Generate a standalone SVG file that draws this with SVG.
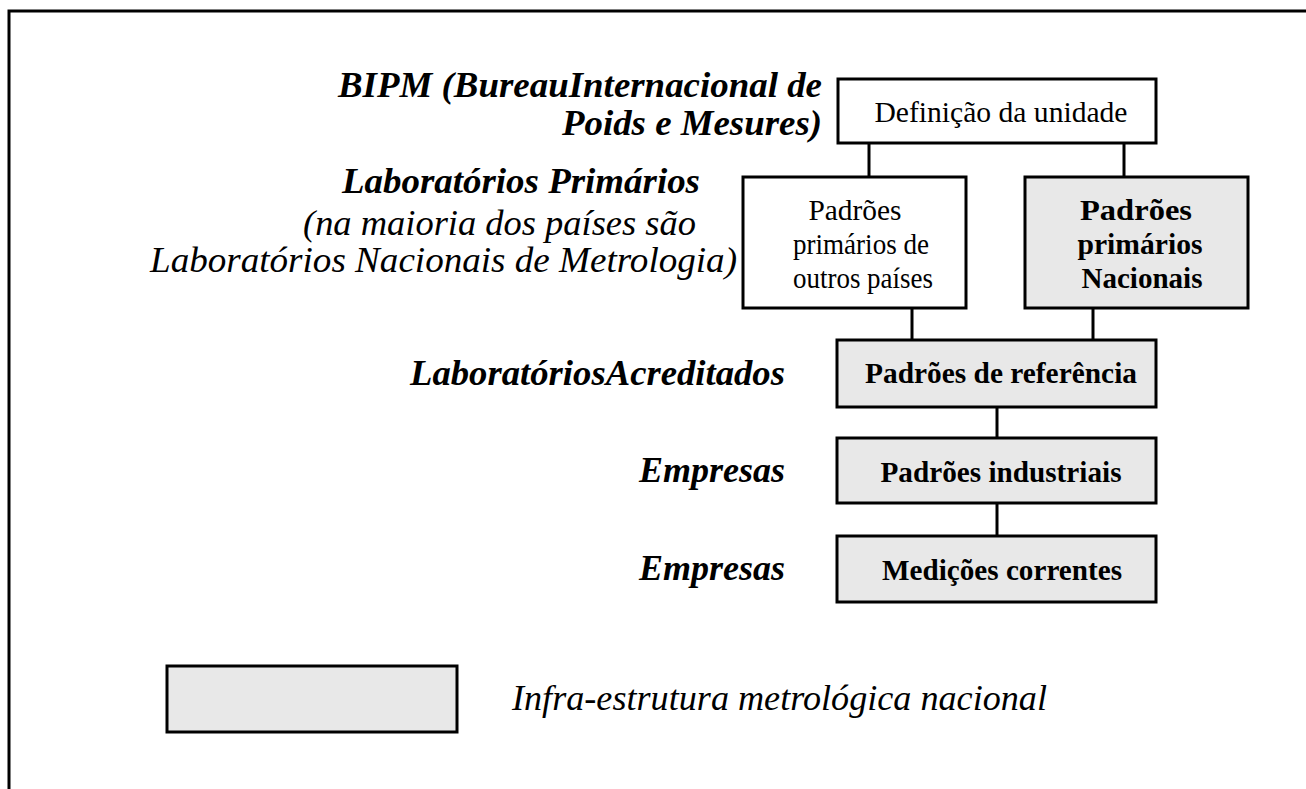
<svg xmlns="http://www.w3.org/2000/svg" width="1306" height="789" viewBox="0 0 1306 789">
<style>
.box{stroke:#000;stroke-width:3;}
.w{fill:#fff;}
.g{fill:#e8e8e8;}
.conn line{stroke:#000;stroke-width:3;}
.lbl{font-size:36.5px;font-style:italic;fill:#000;}
.b{font-weight:bold;}
.nt{font-size:29.3px;fill:#000;text-anchor:middle;}
</style>
<rect x="9" y="11" width="1310" height="800" fill="#fff" stroke="#000" stroke-width="3"/>
<g font-family="Liberation Serif, Times New Roman, DejaVu Serif, serif">
<g id="labels">
<text class="lbl b" x="822" y="97" text-anchor="end" textLength="484" lengthAdjust="spacingAndGlyphs">BIPM (BureauInternacional de</text>
<text class="lbl b" x="822" y="135" text-anchor="end" textLength="260" lengthAdjust="spacingAndGlyphs">Poids e Mesures)</text>
<text class="lbl b" x="342" y="193" textLength="358" lengthAdjust="spacingAndGlyphs">Laboratórios Primários</text>
<text class="lbl" x="303" y="235" textLength="393" lengthAdjust="spacingAndGlyphs">(na maioria dos países são</text>
<text class="lbl" x="150" y="272" textLength="587" lengthAdjust="spacingAndGlyphs">Laboratórios Nacionais de Metrologia)</text>
<text class="lbl b" x="410" y="385" textLength="375" lengthAdjust="spacingAndGlyphs">LaboratóriosAcreditados</text>
<text class="lbl b" x="639" y="482" textLength="146" lengthAdjust="spacingAndGlyphs">Empresas</text>
<text class="lbl b" x="639" y="580" textLength="146" lengthAdjust="spacingAndGlyphs">Empresas</text>
</g>
<g id="connectors" class="conn">
<line x1="869" y1="143" x2="869" y2="177"/>
<line x1="1124" y1="143" x2="1124" y2="177"/>
<line x1="912" y1="308" x2="912" y2="340"/>
<line x1="1093" y1="308" x2="1093" y2="340"/>
<line x1="997" y1="407" x2="997" y2="438"/>
<line x1="997" y1="503" x2="997" y2="536"/>
</g>
<g id="n-definicao">
<rect class="box w" x="838" y="79" width="318" height="64"/>
<text class="nt" x="1001" y="122" textLength="253" lengthAdjust="spacingAndGlyphs">Definição da unidade</text>
</g>
<g id="n-outros">
<rect class="box w" x="743" y="177" width="223" height="131"/>
<text class="nt" x="855" y="220" textLength="93" lengthAdjust="spacingAndGlyphs">Padrões</text>
<text class="nt" x="861" y="254" textLength="136" lengthAdjust="spacingAndGlyphs">primários de</text>
<text class="nt" x="863" y="288" textLength="140" lengthAdjust="spacingAndGlyphs">outros países</text>
</g>
<g id="n-nacionais">
<rect class="box g" x="1025" y="177" width="223" height="131"/>
<text class="nt b" x="1136" y="220" textLength="112" lengthAdjust="spacingAndGlyphs">Padrões</text>
<text class="nt b" x="1140" y="254" textLength="125" lengthAdjust="spacingAndGlyphs">primários</text>
<text class="nt b" x="1142" y="288" textLength="121" lengthAdjust="spacingAndGlyphs">Nacionais</text>
</g>
<g id="n-referencia">
<rect class="box g" x="837" y="340" width="319" height="67"/>
<text class="nt b" x="1001" y="383" textLength="272" lengthAdjust="spacingAndGlyphs">Padrões de referência</text>
</g>
<g id="n-industriais">
<rect class="box g" x="837" y="438" width="319" height="65"/>
<text class="nt b" x="1001" y="482" textLength="241" lengthAdjust="spacingAndGlyphs">Padrões industriais</text>
</g>
<g id="n-medicoes">
<rect class="box g" x="837" y="536" width="319" height="66"/>
<text class="nt b" x="1002" y="580" textLength="240" lengthAdjust="spacingAndGlyphs">Medições correntes</text>
</g>
<g id="legend">
<rect class="box g" x="167" y="666" width="290" height="66"/>
<text class="lbl" x="512" y="710" textLength="535" lengthAdjust="spacingAndGlyphs">Infra-estrutura metrológica nacional</text>
</g>
</g>
</svg>
